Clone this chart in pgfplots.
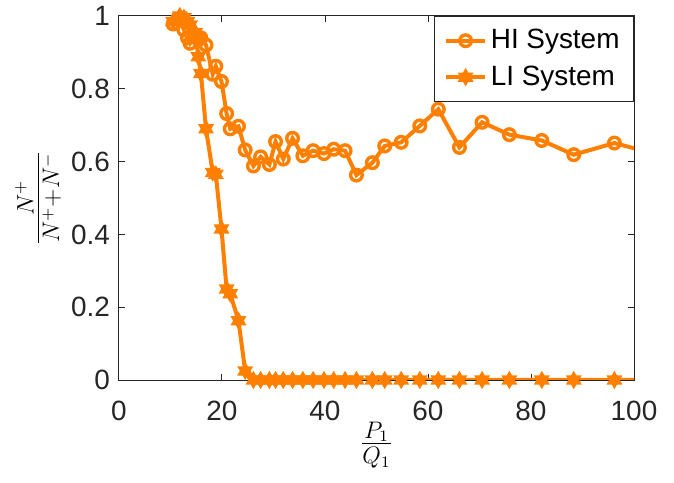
\documentclass[border=0pt]{standalone}
\usepackage{fontspec}
\setmainfont{Liberation Sans}
\usepackage{pgfplots}
\pgfplotsset{compat=1.18}
\definecolor{mo}{RGB}{255,128,0}
\definecolor{axc}{RGB}{38,38,38}
\pgfdeclareplotmark{hexa}{%
 \pgfpathmoveto{\pgfqpointpolar{90}{\pgfplotmarksize}}%
 \pgfpathlineto{\pgfqpointpolar{210}{\pgfplotmarksize}}%
 \pgfpathlineto{\pgfqpointpolar{330}{\pgfplotmarksize}}%
 \pgfpathclose
 \pgfpathmoveto{\pgfqpointpolar{270}{\pgfplotmarksize}}%
 \pgfpathlineto{\pgfqpointpolar{30}{\pgfplotmarksize}}%
 \pgfpathlineto{\pgfqpointpolar{150}{\pgfplotmarksize}}%
 \pgfpathclose
 \pgfusepathqfillstroke}

\pgfplotstableread{
x hi li
10.5 0.978 0.985
11.8 0.990 1.000
12.6 0.962 0.995
13.3 0.940 0.985
13.8 0.925 0.975
14.8 0.945 0.955
15.4 0.935 0.888
15.9 0.940 0.842
16.9 0.920 0.690
18.2 0.840 0.570
18.8 0.862 0.565
19.9 0.820 0.415
20.9 0.732 0.250
21.6 0.690 0.237
23.2 0.697 0.163
24.5 0.632 0.025
26.1 0.588 0.000
27.5 0.613 0.000
29.2 0.592 0.000
30.4 0.655 0.000
31.9 0.607 0.000
33.7 0.664 0.000
35.7 0.616 0.000
37.7 0.630 0.000
39.8 0.622 0.000
41.7 0.634 0.000
43.9 0.630 0.000
46.1 0.563 0.000
49.2 0.597 0.000
51.6 0.643 0.000
54.8 0.653 0.000
58.4 0.698 0.000
62.0 0.744 0.000
66.1 0.639 0.000
70.5 0.708 0.000
75.8 0.674 0.000
82.1 0.658 0.000
88.3 0.619 0.000
96.2 0.651 0.000
104.9 0.618 0.000
}\datatab

\begin{document}
\begin{tikzpicture}
\begin{axis}[
 scale only axis, width=257.5bp, height=182bp,
 xmin=0, xmax=100, ymin=0, ymax=1,
 xtick={0,20,40,60,80,100}, ytick={0,0.2,0.4,0.6,0.8,1},
 tick align=inside, major tick length=3bp,
 axis line style={axc, line width=0.5bp},
 every tick/.style={axc, line width=0.5bp},
 every tick label/.append style={text=axc, font=\fontsize{14}{16}\selectfont},
 /pgf/number format/assume math mode=true,
 xticklabel style={yshift=-7bp},
 yticklabel style={xshift=-1bp},
 xlabel={$\frac{P_1}{Q_1}$},
 ylabel={$\frac{N^+}{N^+ + N^-}$},
 xlabel style={font=\fontsize{17}{19}\selectfont, at={(axis description cs:0.5,-0.1786)}, anchor=center},
 ylabel style={font=\fontsize{17}{19}\selectfont, at={(axis description cs:-0.157,0.5)}, anchor=center},
 legend style={at={(1,1)}, anchor=north east, draw=axc, line width=0.5bp, fill=white,
   font=\fontsize{14}{16}\selectfont, inner xsep=5bp, inner ysep=4.5bp, row sep=3bp},
 legend cell align=left,
 legend image code/.code={\draw[mark=none] (0cm,0cm) -- (0.68cm,0cm); \draw plot coordinates {(0.34cm,0cm)};},
 clip mode=individual,
]
\addplot[mo, line width=2bp, mark=o, mark size=2.9bp, mark indices={1,...,39},
  mark options={line width=1.7bp, fill=white}] table[x=x,y=hi] {\datatab};
\addlegendentry{HI System}
\addplot[mo, line width=2bp, mark=hexa, mark size=3.8bp, mark indices={1,...,39},
  mark options={line width=0.8bp, fill=mo}] table[x=x,y=li] {\datatab};
\addlegendentry{LI System}
\end{axis}
\pgfresetboundingbox
\path (-59.5bp,-51.5bp) rectangle (277.5bp,190bp);
\end{tikzpicture}
\end{document}
